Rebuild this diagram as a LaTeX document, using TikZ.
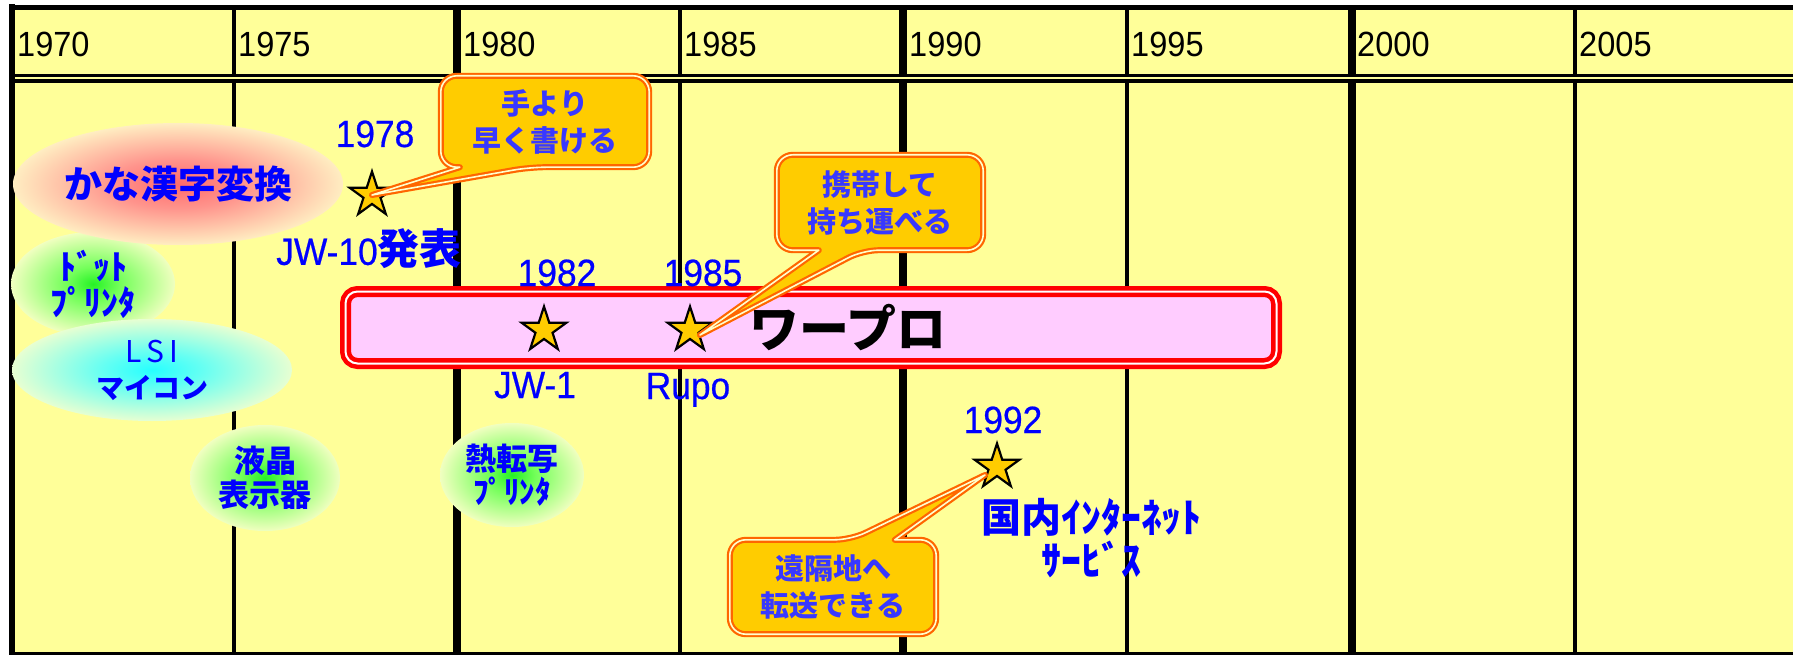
\documentclass[tikz,border=0pt]{standalone}
\usepackage{fontspec}
\setmainfont{Liberation Sans}
\newfontfamily\jp{Noto Sans CJK JP}
\newfontfamily\hdfont{Liberation Sans}[FakeStretch=0.93]
\newfontfamily\lblfont{Liberation Sans}[FakeStretch=0.93,FakeBold=0.5]
\usetikzlibrary{shapes.geometric,calc}
\definecolor{bg}{HTML}{FFFF99}
\definecolor{gold}{HTML}{FFCC00}
\definecolor{orng}{HTML}{FF6600}
\definecolor{paley}{HTML}{FFFFCC}
\definecolor{pinkfill}{HTML}{FFCCFF}
\definecolor{btext}{HTML}{3838FF}
\definecolor{lblue}{HTML}{0000FF}
\pgfdeclareradialshading{glowred}{\pgfpoint{0bp}{0bp}}{rgb(0bp)=(1,0.42,0.42); rgb(10bp)=(1,0.58,0.55); rgb(28bp)=(1,1,0.8); rgb(50bp)=(1,1,0.8)}
\pgfdeclareradialshading{glowgreen}{\pgfpoint{0bp}{0bp}}{rgb(0bp)=(0.15,0.95,0.15); rgb(8bp)=(0.45,1,0.35); rgb(27bp)=(1,1,0.8); rgb(50bp)=(1,1,0.8)}
\pgfdeclareradialshading{glowcyan}{\pgfpoint{0bp}{0bp}}{rgb(0bp)=(0.15,1,1); rgb(9bp)=(0.4,1,0.95); rgb(28bp)=(1,1,0.8); rgb(50bp)=(1,1,0.8)}
\pgfdeclarelayer{fg}
\pgfsetlayers{main,fg}
\begin{document}
\begin{tikzpicture}[x=1pt,y=-1pt,
 every node/.style={inner sep=0pt},
 grid/.style={line width=3.8pt},
 gridthick/.style={line width=7.8pt},
 yearhd/.style={anchor=base west,font=\hdfont\fontsize{35}{38}\selectfont},
 lbl/.style={text=lblue,font=\lblfont\fontsize{38}{42}\selectfont},
 glowbox/.style={ellipse,draw=none,align=center,text=lblue},
 evstar/.style={star,star points=5,star point ratio=2.618,minimum size=47,fill=gold,draw=black,line width=2.2pt},
 bubbletext/.style={rectangle,align=center,text=btext,font=\jp\bfseries\fontsize{29}{37}\selectfont},
 bubble/.style={draw=orng,line width=2.2pt,double=paley,double distance=1.6pt,fill=gold,line join=round},
 wapro/.style={rectangle,rounded corners=12,draw=red,line width=4.5pt,double=white,double distance=2pt,fill=pinkfill},
]
\useasboundingbox (0,0) rectangle (1793,655);
\fill[white] (0,0) rectangle (1793,655);
\fill[bg] (12,7) rectangle (1793,655);
% grid
\foreach \x in {234,680,1127,1575} \draw[grid] (\x,7) -- (\x,655);
\foreach \x in {457,903,1352} \draw[gridthick] (\x,7) -- (\x,655);
\draw[line width=6pt] (12,4.5) -- (12,655);
\draw[line width=5pt] (9,7.5) -- (1793,7.5);
\draw[line width=5pt] (9,654.5) -- (1793,654.5);
\draw[line width=3.5pt] (12,75.5) -- (1793,75.5);
\draw[line width=4pt] (12,81.3) -- (1793,81.3);
\draw[bg,line width=2pt] (15,78.3) -- (1793,78.3);
% header years
\node[yearhd] (h1970) at (17,57) {1970};
\node[yearhd] (h1975) at (238,57) {1975};
\node[yearhd] (h1980) at (463,57) {1980};
\node[yearhd] (h1985) at (684,57) {1985};
\node[yearhd] (h1990) at (909,57) {1990};
\node[yearhd] (h1995) at (1131,57) {1995};
\node[yearhd] (h2000) at (1357,57) {2000};
\node[yearhd] (h2005) at (1579,57) {2005};
% technology ellipses
\node[glowbox,shading=glowgreen,minimum width=164,minimum height=104,font=\jp\bfseries\fontsize{34}{36}\selectfont] (dot) at (93,284) {ﾄﾞｯﾄ\\ﾌﾟﾘﾝﾀ};
\node[glowbox,shading=glowred,minimum width=330,minimum height=122,font=\jp\bfseries\fontsize{38}{40}\selectfont] (kana) at (178,184) {かな漢字変換};
\node[glowbox,shading=glowcyan,minimum width=280,minimum height=102,font=\jp\fontsize{28}{36}\selectfont] (lsi) at (152,370) {{\fontsize{30}{36}\selectfont L\,S\,I}\\{\bfseries マイコン}};
\node[glowbox,shading=glowgreen,minimum width=150,minimum height=106,font=\jp\bfseries\fontsize{31}{34}\selectfont] (lcd) at (265,478) {液晶\\表示器};
\node[glowbox,shading=glowgreen,minimum width=144,minimum height=104,font=\jp\bfseries\fontsize{31}{33}\selectfont] (thermal) at (512,475) {熱転写\\ﾌﾟﾘﾝﾀ};
% word processor band
\node[wapro,minimum width=931,minimum height=72] (wp) at (811,327.5) {};
\node[font=\jp\bfseries\fontsize{50}{52}\selectfont] (wpt) at (848,328) {ワープロ};
% stars
\node[evstar] (s78) at (372,195) {};
\node[evstar] (s82) at (544,330) {};
\node[evstar] (s85) at (690,330) {};
\node[evstar] (s92) at (997,467) {};
% labels
\node[lbl,anchor=base] (y78) at (375,147) {1978};
\node[lbl] (jw10) at (369,249) {JW-10{\jp\bfseries\fontsize{42}{44}\selectfont 発表}};
\node[lbl,anchor=base] (y82) at (557,286) {1982};
\node[lbl,anchor=base] (y85) at (703,286) {1985};
\node[lbl,anchor=base] (jw1) at (535,398) {JW-1};
\node[lbl,anchor=base] (rupo) at (688,399) {Rupo};
\node[lbl,anchor=base] (y92) at (1003,433) {1992};
\node[text=lblue,align=center,font=\jp\bfseries\fontsize{40}{43}\selectfont] (net) at (1091,538) {国内ｲﾝﾀｰﾈｯﾄ\\ｻｰﾋﾞｽ};
% callouts
\begin{pgfonlayer}{fg}
\node[bubbletext,minimum width=208,minimum height=91] (b1) at (545,121.5) {手より\\早く書ける};
\node[bubbletext,minimum width=206,minimum height=95] (b2) at (880,202.5) {携帯して\\持ち運べる};
\node[bubbletext,minimum width=206,minimum height=94] (b3) at (833,587) {遠隔地へ\\転送できる};
\end{pgfonlayer}
\draw[bubble,rounded corners=16] (b1.north) -- (b1.north east) -- (b1.south east) -- ($(b1.south west)+(89,0)$) [sharp corners] -- (s78.center) -- ($(b1.south west)+(19,0)$) [rounded corners=16] -- (b1.south west) -- (b1.north west) -- cycle;
\draw[bubble,rounded corners=16] (b2.north) -- (b2.north east) -- (b2.south east) -- ($(b2.south west)+(86,0)$) [sharp corners] -- ($(s85.center)+(10,5)$) -- ($(b2.south west)+(42,0)$) [rounded corners=16] -- (b2.south west) -- (b2.north west) -- cycle;
\draw[bubble,rounded corners=16] (b3.south) -- (b3.south west) -- (b3.north west) -- ($(b3.north west)+(121,0)$) [sharp corners] -- ($(s92.center)+(-12,8)$) -- ($(b3.north west)+(165,0)$) [rounded corners=16] -- (b3.north east) -- (b3.south east) -- cycle;
\end{tikzpicture}
\end{document}
